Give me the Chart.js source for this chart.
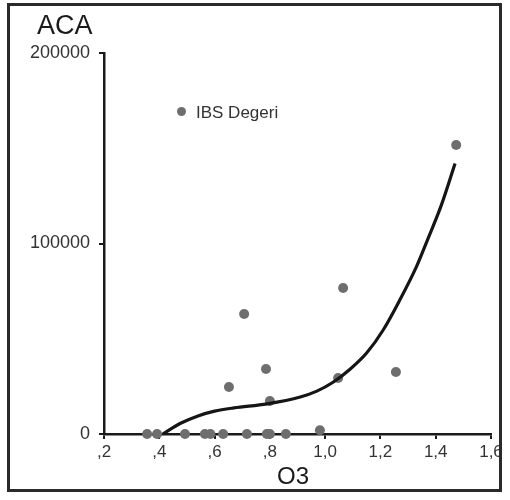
<!DOCTYPE html>
<html>
<head>
<meta charset="utf-8">
<script src="https://cdn.jsdelivr.net/npm/chart.js@4/dist/chart.umd.min.js"></script>
<style>
  html, body { margin: 0; padding: 0; background: #fff; }
  #wrap { position: relative; width: 510px; height: 500px; font-family: "Liberation Sans", Arial, sans-serif; }
  #frame { position: absolute; left: 7px; top: 3px; width: 495px; height: 489px; border: 3px solid #2a2a2a; box-sizing: border-box; pointer-events: none; }
  canvas { position: absolute; left: 0; top: 0; }
  .t { position: absolute; color: #1a1a1a; white-space: nowrap; line-height: 1; }
  #ytitle { left: 37px; top: 12px; font-size: 27px; }
  #xtitle { left: 277px; top: 464px; font-size: 24px; }
  #legend { left: 177px; top: 104px; font-size: 17px; color: #333; }
  #legend span.dot { display: inline-block; width: 9px; height: 9px; border-radius: 50%; background: #6e6e6e; margin-right: 10px; vertical-align: 2px; }
</style>
</head>
<body>
<div id="wrap">
  <canvas id="c" width="510" height="500"></canvas>
  <div id="frame"></div>
  <div class="t" id="ytitle">ACA</div>
  <div class="t" id="xtitle">O3</div>
  <div class="t" id="legend"><span class="dot"></span>IBS Degeri</div>
</div>
<script>
// Observed values (IBS Degeri)
const obsX = [0.356, 0.392, 0.493, 0.565, 0.585, 0.631, 0.717, 0.789, 0.80, 0.858, 0.981, 0.652, 0.80, 1.065, 0.707, 0.786, 1.047, 1.256, 1.474];
const obsY = [0, 0, 0, 0, 0, 0, 0, 0, 0, 0, 2000, 24700, 17300, 76600, 63000, 34100, 29400, 32500, 151700];

// Fitted curve
const fitX = [0.413, 0.475, 0.54, 0.60, 0.67, 0.79, 0.91, 0.97, 1.03, 1.09, 1.15, 1.21, 1.27, 1.33, 1.37, 1.42, 1.47];
const fitY = [0, 5500, 9500, 12000, 13700, 15800, 19400, 22500, 27300, 34000, 42500, 54600, 70300, 87700, 101800, 120000, 142000];

// Tick labels
const xTickValues = [0.2, 0.4, 0.6, 0.8, 1.0, 1.2, 1.4, 1.6];
const xTickLabels = [',2', ',4', ',6', ',8', '1,0', '1,2', '1,4', '1,6'];
const yTickValues = [0, 100000, 200000];
const yTickLabels = ['0', '100000', '200000'];

const obsData = obsX.map((x, i) => ({ x: x, y: obsY[i] }));
const fitData = fitX.map((x, i) => ({ x: x, y: fitY[i] }));

Chart.defaults.font.family = '"Liberation Sans", Arial, sans-serif';

new Chart(document.getElementById('c'), {
  type: 'scatter',
  data: {
    datasets: [
      {
        label: 'IBS Degeri',
        data: obsData,
        backgroundColor: '#6e6e6e',
        borderColor: '#6e6e6e',
        pointRadius: 5,
        pointBorderWidth: 0,
        clip: false,
        order: 2
      },
      {
        label: 'fit',
        data: fitData,
        showLine: true,
        borderColor: '#151515',
        borderWidth: 3.2,
        pointRadius: 0,
        tension: 0.4,
        cubicInterpolationMode: 'monotone',
        clip: false,
        order: 1
      }
    ]
  },
  options: {
    responsive: false,
    animation: false,
    layout: { padding: { left: 0, top: 53, right: 19, bottom: 0 } },
    plugins: { legend: { display: false }, tooltip: { enabled: false } },
    scales: {
      x: {
        type: 'linear',
        min: 0.2, max: 1.6,
        afterBuildTicks: (s) => { s.ticks = xTickValues.map(v => ({ value: v })); },
        afterFit: (s) => { s.height = 66; },
        ticks: {
          callback: (v) => { const i = xTickValues.findIndex(t => Math.abs(t - v) < 1e-6); return i >= 0 ? xTickLabels[i] : ''; },
          color: '#333', font: { size: 17 }, padding: 3, maxRotation: 0, autoSkip: false
        },
        grid: { drawOnChartArea: false, drawTicks: true, tickLength: 5, color: '#1a1a1a', lineWidth: 2 },
        border: { color: '#1a1a1a', width: 2.5 }
      },
      y: {
        type: 'linear',
        min: 0, max: 200000,
        afterBuildTicks: (s) => { s.ticks = yTickValues.map(v => ({ value: v })); },
        afterFit: (s) => { s.width = 104; },
        ticks: {
          callback: (v) => { const i = yTickValues.indexOf(v); return i >= 0 ? yTickLabels[i] : ''; },
          color: '#333', font: { size: 18 }, padding: 9
        },
        grid: { drawOnChartArea: false, drawTicks: true, tickLength: 5, color: '#1a1a1a', lineWidth: 2 },
        border: { color: '#1a1a1a', width: 2.5 }
      }
    }
  }
});
</script>
</body>
</html>
